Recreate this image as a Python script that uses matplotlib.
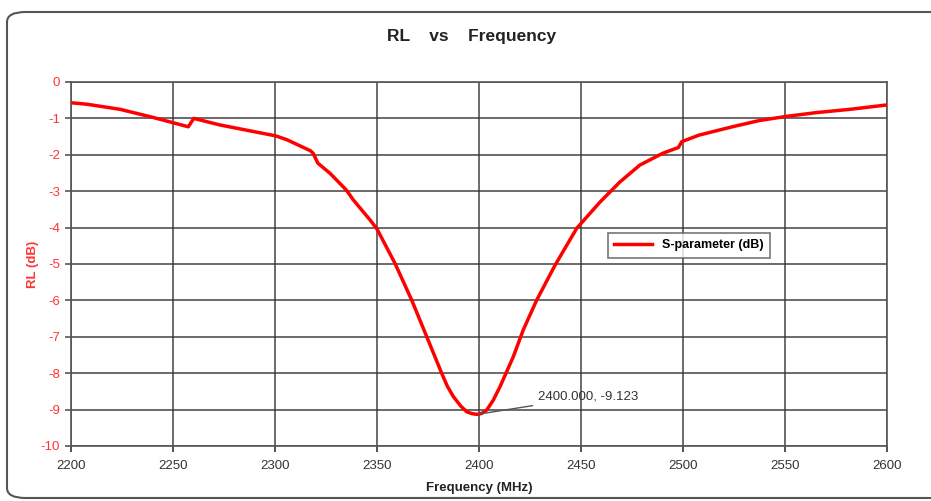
import matplotlib.pyplot as plt
from matplotlib.patches import FancyBboxPatch

plt.rcParams['font.family'] = ['Liberation Sans', 'DejaVu Sans']
plt.rcParams['axes.unicode_minus'] = False

# Return loss
freq_mhz = [2200, 2207.7, 2224, 2240, 2257.5, 2260.2, 2273, 2289.4, 2300.4, 2306,
            2317.4, 2318.7, 2321, 2327, 2335, 2338.4, 2346.6, 2350, 2358.8, 2367,
            2374.4, 2381.7, 2384.5, 2387.4, 2391, 2394, 2396.5, 2398.8, 2400,
            2401.5, 2403.8, 2407, 2410.3, 2416.8,
            2421.7, 2428.3, 2437.3, 2447.9, 2459.3, 2469, 2478.9, 2490, 2497.7,
            2499.4, 2507.8, 2524.2, 2537.3, 2550, 2565.5, 2582, 2600]
rl_db = [-0.57, -0.61, -0.75, -0.97, -1.23, -1.00, -1.18, -1.36, -1.48, -1.59,
         -1.89, -1.96, -2.23, -2.51, -2.97, -3.24, -3.79, -4.04, -4.98, -5.99,
         -7.00, -8.00, -8.36, -8.64, -8.90, -9.06, -9.11, -9.13, -9.123,
         -9.10, -9.01, -8.74, -8.37, -7.55,
         -6.81, -5.99, -5.03, -4.02, -3.30, -2.75, -2.28, -1.96, -1.80,
         -1.64, -1.46, -1.23, -1.06, -0.95, -0.84, -0.75, -0.63]

x_ticks = [2200, 2250, 2300, 2350, 2400, 2450, 2500, 2550, 2600]
y_ticks = [0, -1, -2, -3, -4, -5, -6, -7, -8, -9, -10]

fig = plt.figure(figsize=(9.31, 5.01), dpi=100)

# rounded outer frame
frame = FancyBboxPatch((7 / 931, 3 / 501), 1.2, 486 / 501,
                       boxstyle="round,pad=0,rounding_size=0.02",
                       transform=fig.transFigure, fill=False,
                       edgecolor='#555555', linewidth=1.5, zorder=0)
fig.patches.append(frame)

ax = fig.add_axes([71 / 931, 1 - 446 / 501, 816 / 931, 364 / 501])

ax.plot(freq_mhz, rl_db, color='red', linewidth=2.5, label='S-parameter (dB)', zorder=3)

ax.set_xlim(2200, 2600)
ax.set_ylim(-10, 0)
ax.set_xticks(x_ticks)
ax.set_yticks(y_ticks)
ax.grid(True, color='#333333', linewidth=1.2, alpha=0.85)
for s in ax.spines.values():
    s.set_color('#555555')
    s.set_linewidth(1.2)

ax.tick_params(axis='x', colors='#333333', labelsize=9.5, length=4, width=1.2, pad=6)
ax.tick_params(axis='y', colors='#555555', labelcolor='#ff3333', labelsize=9.5,
               length=4, width=1.2, pad=4)

ax.set_xlabel('Frequency (MHz)', fontsize=9.5, fontweight='bold', color='#222222', labelpad=7)
ax.set_ylabel('RL (dB)', fontsize=9.5, fontweight='bold', color='#ff3333', labelpad=1)
fig.text(472 / 931, 1 - 37 / 501, 'RL    vs    Frequency', ha='center', va='center',
         fontsize=12.5, fontweight='bold', color='#222222')

leg = ax.legend(loc='upper left', bbox_to_anchor=(0.658, 0.585),
                prop={'weight': 'bold', 'size': 9}, frameon=True, fancybox=False,
                handlelength=3, borderpad=0.5, borderaxespad=0)
leg.get_frame().set_edgecolor('#555555')
leg.get_frame().set_linewidth(1.2)

ax.annotate('2400.000, -9.123', xy=(2400, -9.123), xytext=(2429, -8.65),
            fontsize=9.5, color='#333333', va='center',
            arrowprops=dict(arrowstyle='-', color='#555555', linewidth=1,
                            shrinkA=2, shrinkB=0))

fig.savefig('out.png', dpi=100)
